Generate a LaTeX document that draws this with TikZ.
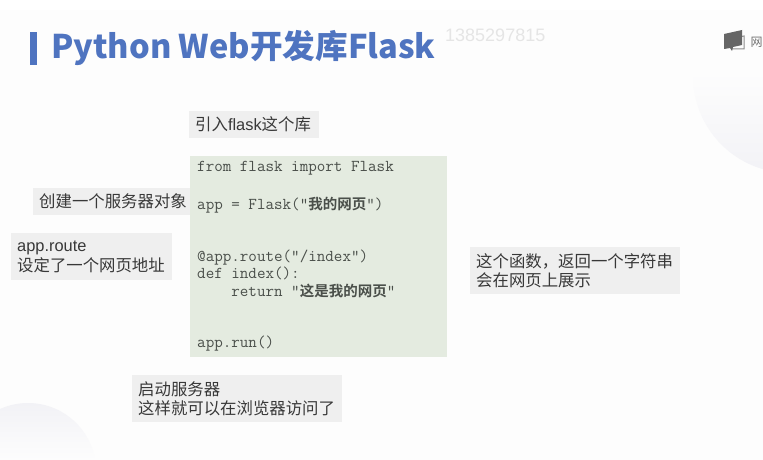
\documentclass[tikz,border=0pt]{standalone}
\usepackage{fontspec}
\setmainfont{Noto Sans CJK SC}
\newfontfamily\cjk{Noto Sans CJK SC}[BoldFont={* Bold}]
\newfontfamily\latn{Liberation Sans}
\newcommand{\codecjk}[1]{{\fontsize{14.5}{17.3}\selectfont\cjk\bfseries #1}}
\definecolor{titleblue}{HTML}{4F74C0}
\definecolor{notegray}{HTML}{EFEFEF}
\definecolor{codegreen}{HTML}{E4EBE0}
\definecolor{codetext}{HTML}{4A4F4A}
\definecolor{blobgray}{HTML}{F2F2F6}
\definecolor{pagegray}{HTML}{FDFDFD}
\tikzset{
	notebox/.style = {anchor = north west, fill = notegray, text = black!78, align = left, inner xsep = 6pt, inner ysep = 0pt, font = \fontsize{16.4}{19.6}\selectfont},
	codebox/.style = {anchor = north west, fill = codegreen, text = codetext, align = left, inner xsep = 7pt, inner ysep = 0pt, font = \fontsize{16.6}{17.3}\ttfamily}
}
\begin{document}
\begin{tikzpicture}
			[
				x = 1pt,
				y = -1pt
			]
			\useasboundingbox (0,0) rectangle (763,460);
			\fill[pagegray] (0,10) rectangle (763,460);
			\begin{scope}
				\clip (790,76) circle (97);
				\shade[top color = pagegray, bottom color = blobgray] (690,72) rectangle (763,175);
			\end{scope}
			\begin{scope}
				\clip (28,471) circle (68);
				\shade[top color = blobgray, bottom color = pagegray] (0,403) rectangle (96,460);
			\end{scope}
			\fill[titleblue] (30,32) rectangle (37,65);
			\node[anchor = west, text = titleblue, font = \fontsize{32.6}{38}\selectfont\bfseries, inner sep = 0pt] (title) at (51,48) {Python Web开发库Flask};
			\node[anchor = west, text = black!10, font = \fontsize{18}{22}\selectfont\latn, inner sep = 0pt] (mark) at (445,35) {1385297815};
			\draw[black!45, line width = 1pt] (738,37) -- (744,36) -- (744,49) -- (732,49);
			\fill[black!60] (724,34) -- (742,30) -- (742,45) -- (733,47) -- (732,51) -- (730,48) -- (724,49) -- cycle;
			\node[anchor = west, text = black!55, font = \fontsize{12}{14}\selectfont, inner sep = 0pt] (brand) at (750.5,42) {网};
			\node[notebox, text width = 118pt, minimum height = 27pt] (importnote) at (189,111) {引入{\latn flask}这个库};
			\node[notebox, text width = 145pt, minimum height = 27pt] (appnote) at (33,188) {创建一个服务器对象};
			\node[notebox, text width = 149pt, minimum height = 47pt] (routenote) at (11,233) {{\latn app.route}\\设定了一个网页地址};
			\node[notebox, text width = 198pt, minimum height = 47pt] (returnnote) at (470,247) {这个函数，返回一个字符串\\会在网页上展示};
			\node[notebox, text width = 198pt, minimum height = 47pt] (runnote) at (132,375) {启动服务器\\这样就可以在浏览器访问了};
			\node[codebox, text width = 243pt, minimum height = 201pt] (code) at (190,156)
			{
				\vspace*{3pt}\spaceskip = 0pt \xspaceskip = 0pt
				from flask import Flask\\[17.3pt]
				app = Flask("\codecjk{我的网页}")\\[34.6pt]
				@app.route("/index")\\
				def index():\\
				\ \ \ \ return "\codecjk{这是我的网页}"\\[34.6pt]
				app.run()
			};
\end{tikzpicture}
\end{document}
